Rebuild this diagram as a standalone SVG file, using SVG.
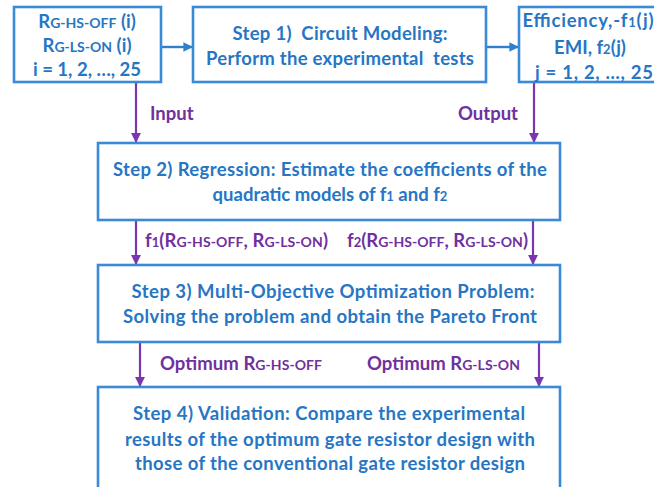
<svg xmlns="http://www.w3.org/2000/svg" width="654" height="487" viewBox="0 0 654 487">
  <style>
    .box { fill: #ffffff; stroke: #3a8ad8; stroke-width: 2.6; }
    .t { font-family: Lato, "Open Sans", "Liberation Sans", sans-serif; font-weight: bold; font-size: 18.5px; fill: #2676c4; text-anchor: middle; }
    .lbl { font-family: Lato, "Open Sans", "Liberation Sans", sans-serif; font-weight: bold; font-size: 18.5px; fill: #7030a0; }
    .sc { font-size: 14px; }
    .sub { font-size: 13px; }
    .blue { stroke: #2f7fcf; stroke-width: 2.4; fill: none; }
    .purple { stroke: #7a35b0; stroke-width: 2.2; fill: none; }
  </style>
  <defs>
    <marker id="hb" viewBox="0 0 10 10" refX="9" refY="5" markerWidth="4" markerHeight="4" markerUnits="strokeWidth" orient="auto">
      <path d="M0,0 L10,5 L0,10 Z" fill="#2f7fcf"/>
    </marker>
    <marker id="hp" viewBox="0 0 10 10" refX="9" refY="5" markerWidth="4.5" markerHeight="4.5" markerUnits="strokeWidth" orient="auto">
      <path d="M0,0 L10,5 L0,10 Z" fill="#7a35b0"/>
    </marker>
  </defs>

  <!-- connectors and their labels -->
  <g id="connectors">
    <line class="blue" x1="162" y1="47" x2="192" y2="47" marker-end="url(#hb)"/>
    <line class="blue" x1="487" y1="47" x2="518" y2="47" marker-end="url(#hb)"/>
    <line class="purple" x1="136" y1="83" x2="136" y2="142" marker-end="url(#hp)"/>
    <line class="purple" x1="534" y1="83" x2="534" y2="142" marker-end="url(#hp)"/>
    <line class="purple" x1="136" y1="221" x2="136" y2="264" marker-end="url(#hp)"/>
    <line class="purple" x1="533" y1="221" x2="533" y2="264" marker-end="url(#hp)"/>
    <line class="purple" x1="140" y1="343" x2="140" y2="386" marker-end="url(#hp)"/>
    <line class="purple" x1="539" y1="343" x2="539" y2="386" marker-end="url(#hp)"/>
    <text class="lbl" x="150" y="120">Input</text>
    <text class="lbl" x="518" y="120" text-anchor="end">Output</text>
    <text class="lbl" x="145" y="247" textLength="183">f<tspan class="sub">1</tspan>(R<tspan class="sc">G-HS-OFF</tspan>, R<tspan class="sc">G-LS-ON</tspan>)</text>
    <text class="lbl" x="347" y="247" textLength="181">f<tspan class="sub">2</tspan>(R<tspan class="sc">G-HS-OFF</tspan>, R<tspan class="sc">G-LS-ON</tspan>)</text>
    <text class="lbl" x="160" y="370" textLength="162">Optimum R<tspan class="sc">G-HS-OFF</tspan></text>
    <text class="lbl" x="367" y="370" textLength="153">Optimum R<tspan class="sc">G-LS-ON</tspan></text>
  </g>

  <!-- gate resistor inputs -->
  <g id="inputs">
    <rect class="box" x="14" y="7" width="147" height="75"/>
    <text class="t" x="87" y="28">R<tspan class="sc">G-HS-OFF</tspan> (i)</text>
    <text class="t" x="87" y="52">R<tspan class="sc">G-LS-ON</tspan> (i)</text>
    <text class="t" x="87" y="76">i = 1, 2, …, 25</text>
  </g>

  <!-- step 1 -->
  <g id="step1">
    <rect class="box" x="193" y="7" width="293" height="75"/>
    <text class="t" x="340" y="40" textLength="215">Step 1)&#160; Circuit Modeling:</text>
    <text class="t" x="340" y="65" textLength="268">Perform the experimental&#160; tests</text>
  </g>

  <!-- measured outputs -->
  <g id="outputs">
    <rect class="box" x="519" y="7" width="150" height="75"/>
    <text class="t" x="588" y="27" textLength="131">Efficiency,-f<tspan class="sub">1</tspan>(j)</text>
    <text class="t" x="590" y="54">EMI, f<tspan class="sub">2</tspan>(j)</text>
    <text class="t" x="594" y="79" textLength="118">j = 1, 2, …, 25</text>
  </g>

  <!-- step 2 -->
  <g id="step2">
    <rect class="box" x="98" y="143" width="462" height="77"/>
    <text class="t" x="330" y="176" textLength="434">Step 2) Regression: Estimate the coefficients of the</text>
    <text class="t" x="330" y="201">quadratic models of f<tspan class="sub">1</tspan> and f<tspan class="sub">2</tspan></text>
  </g>

  <!-- step 3 -->
  <g id="step3">
    <rect class="box" x="98" y="265" width="462" height="77"/>
    <text class="t" x="333" y="298" textLength="403">Step 3) Multi-Objective Optimization Problem:</text>
    <text class="t" x="330" y="323" textLength="414">Solving the problem and obtain the Pareto Front</text>
  </g>

  <!-- step 4 -->
  <g id="step4">
    <rect class="box" x="98" y="387" width="462" height="110"/>
    <text class="t" x="329" y="420" textLength="392">Step 4) Validation: Compare the experimental</text>
    <text class="t" x="330" y="446" textLength="410">results of the optimum gate resistor design with</text>
    <text class="t" x="330" y="470" textLength="390">those of the conventional gate resistor design</text>
  </g>
</svg>
